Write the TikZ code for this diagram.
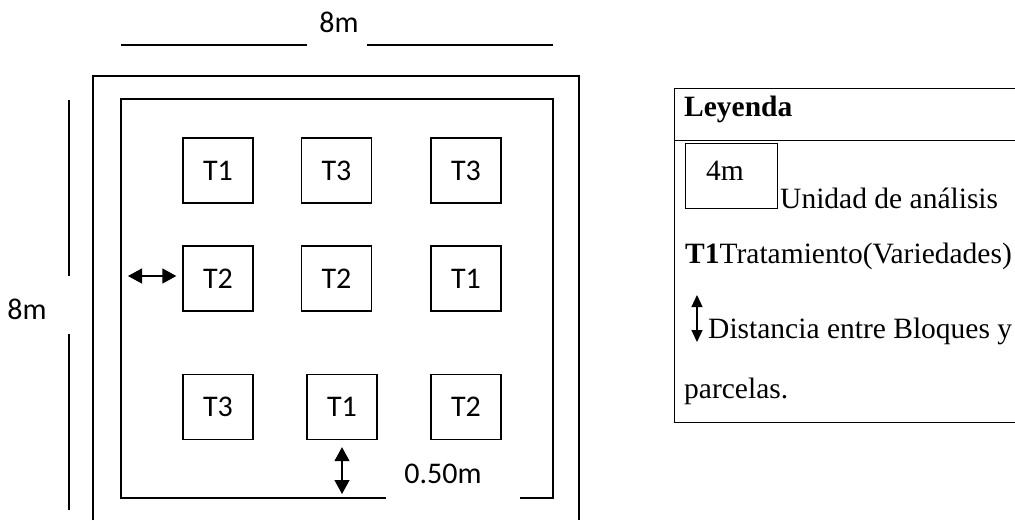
\documentclass[tikz,border=0pt]{standalone}
\usepackage{fontspec}
\setmainfont{Liberation Serif}
\newfontfamily\plotfont{Carlito}
\usepackage{tikz}
\usetikzlibrary{arrows.meta, calc}
\tikzset{>=stealth}
\tikzset{
	plot/.style={draw, line width=1.3pt, minimum width=70pt, minimum height=65pt, inner sep=0pt, font=\plotfont\fontsize{30}{34}\selectfont},
	sanslbl/.style={inner sep=0pt, font=\plotfont\fontsize{30}{34}\selectfont},
	keytxt/.style={anchor=base west, inner sep=0pt, font=\fontsize{29.5}{34}\selectfont},
	bigarrow/.style={line width=1.3pt, {Triangle[length=14pt,width=15pt]}-{Triangle[length=14pt,width=15pt]}},
	smallarrow/.style={line width=1.2pt, {Triangle[length=12pt,width=11pt]}-{Triangle[length=12pt,width=11pt]}}
}

\begin{document}
\begin{tikzpicture}[x=1pt, y=-1pt]
			\useasboundingbox (0,0) rectangle (1015,520);
			% field: outer border and inner block
			\draw [line width=1.3pt] (93,520) -- (93,76) -- (579,76) -- (579,520);
			\draw [line width=1.3pt] (121,99) rectangle (553,498);
			% plots
			\node[plot] (p11) at (218,170.5) {T1};
			\node[plot] (p12) at (336.5,170.5) {T3};
			\node[plot] (p13) at (466,170.5) {T3};
			\node[plot] (p21) at (218,278.5) {T2};
			\node[plot] (p22) at (336.5,278.5) {T2};
			\node[plot] (p23) at (466,278.5) {T1};
			\node[plot] (p31) at (218,407) {T3};
			\node[plot] (p32) at (342,407) {T1};
			\node[plot] (p33) at (466,407) {T2};
			% distances
			\coordinate (lgap) at (128,276);
			\coordinate (bgap) at (342,494);
			\draw [bigarrow, shorten >=6pt] (lgap) -- (p21.west |- lgap);
			\draw [bigarrow, shorten <=7pt] (p32.south) -- (bgap);
			\fill [white] (386,458) rectangle (520,501);
			\node[sanslbl] (gaplbl) at (443,474) {0.50m};
			% dimensions
			\node[sanslbl] (wlbl) at (339,22) {8m};
			\draw [line width=1.3pt] (121,45) -- (307,45);
			\draw [line width=1.3pt] (367,45) -- (553,45);
			\node[sanslbl] (hlbl) at (27,309) {8m};
			\draw [line width=1.3pt] (69,100) -- (69,276);
			\draw [line width=1.3pt] (69,334) -- (69,510);
			% legend
			\draw [line width=1pt] (1015,88) -- (674,88) -- (674,422) -- (1015,422);
			\draw [line width=1pt] (674,140) -- (1015,140);
			\node[keytxt] (leyenda) at (684,116) {\textbf{Leyenda}};
			\node[draw, line width=1pt, minimum width=92pt, minimum height=65pt, inner sep=0pt] (keybox) at (731,175.5) {};
			\node[keytxt] (keylbl) at (706,180) {4m};
			\node[keytxt] (unidad) at (780,208) {Unidad de análisis};
			\node[keytxt] (trat) at (685,263) {\textbf{T1}Tratamiento(Variedades)};
			\coordinate (ktop) at (697,295);
			\coordinate (kbot) at (697,342);
			\draw [smallarrow] (ktop) -- (kbot);
			\node[keytxt] (dist) at (708,338) {Distancia entre Bloques y};
			\node[keytxt] (parc) at (684,398) {parcelas.};
		\end{tikzpicture}
\end{document}
